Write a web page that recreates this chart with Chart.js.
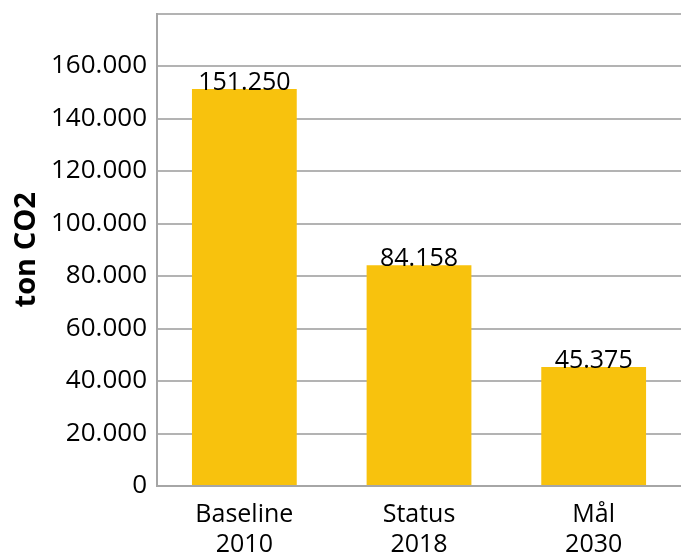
<!DOCTYPE html>
<html>
<head>
<meta charset="utf-8">
<script src="https://cdn.jsdelivr.net/npm/chart.js@4"></script>
<style>
  html, body { margin: 0; padding: 0; background: #fff; }
  #wrap { width: 681px; height: 553px; overflow: hidden; }
  #chart { display: block; margin-top: -12px; }
</style>
</head>
<body>
<div id="wrap"><canvas id="chart" width="681" height="578"></canvas></div>
<script>
const categories = [['Baseline', '2010'], ['Status', '2018'], ['Mål', '2030']];
const emissions = [151250, 84158, 45375];
const yTicks = [0, 20000, 40000, 60000, 80000, 100000, 120000, 140000, 160000];

const fontFamily = '"Open Sans", "Noto Sans", sans-serif';
const fmt = v => v.toLocaleString('da-DK');

// value labels above each bar
const barLabels = {
    id: 'barLabels',
    afterDatasetsDraw(chart) {
        const ctx = chart.ctx;
        const meta = chart.getDatasetMeta(0);
        ctx.save();
        ctx.font = '25px ' + fontFamily;
        ctx.fillStyle = '#000';
        ctx.textAlign = 'center';
        ctx.textBaseline = 'bottom';
        meta.data.forEach((bar, i) => {
            ctx.fillText(fmt(emissions[i]), bar.x, bar.y + 6);
        });
        ctx.restore();
    }
};

new Chart(document.getElementById('chart'), {
    type: 'bar',
    data: {
        labels: categories,
        datasets: [{
            data: emissions,
            backgroundColor: '#f8c20d',
            categoryPercentage: 0.6,
            barPercentage: 1
        }]
    },
    options: {
        responsive: false,
        animation: false,
        layout: { padding: { top: 0, right: 0, left: 12, bottom: 0 } },
        plugins: {
            legend: { display: false },
            tooltip: { enabled: false }
        },
        scales: {
            x: {
                grid: { display: false },
                border: { color: '#a6a6a6', width: 2 },
                ticks: { color: '#000', font: { family: fontFamily, size: 25, lineHeight: 1.2 }, padding: 6 }
            },
            y: {
                min: 0,
                max: 180000,
                afterBuildTicks: axis => {
                    axis.ticks = yTicks.concat([180000]).map(v => ({ value: v }));
                },
                ticks: {
                    color: '#000',
                    font: { family: fontFamily, size: 26 },
                    padding: 10,
                    callback: v => (yTicks.includes(v) ? fmt(v) : '')
                },
                grid: { color: '#b3b3b3', lineWidth: 2, drawTicks: false },
                border: { color: '#a6a6a6', width: 2 },
                title: {
                    display: true,
                    text: 'ton CO2',
                    color: '#000',
                    font: { family: fontFamily, size: 29, weight: 'bold', lineHeight: 1 },
                    padding: { top: 0, bottom: 0 }
                }
            }
        }
    },
    plugins: [barLabels]
});
</script>
</body>
</html>
